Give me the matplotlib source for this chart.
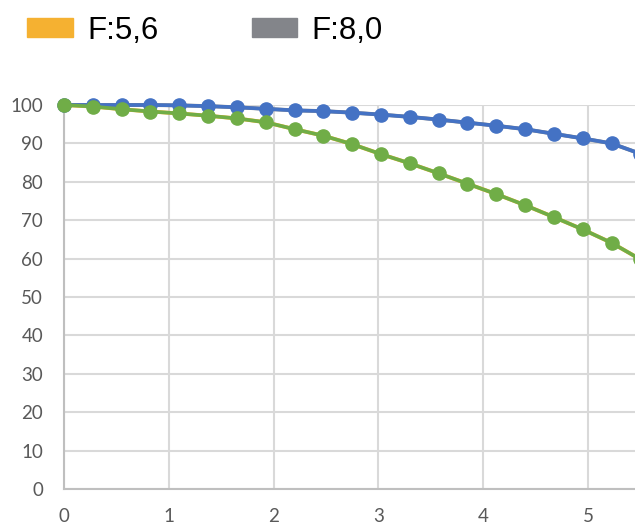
import matplotlib.pyplot as plt
from matplotlib.patches import Patch

# x positions of the samples
x_vals = [0.0, 0.275, 0.55, 0.825, 1.1, 1.375, 1.65, 1.925, 2.2, 2.475, 2.75,
          3.025, 3.3, 3.575, 3.85, 4.125, 4.4, 4.675, 4.95, 5.225, 5.5]
# F:5,6 (green line)
f56 = [100, 99.6, 98.9, 98.3, 97.8, 97.2, 96.5, 95.5, 93.7, 92.0, 89.8,
       87.2, 84.8, 82.2, 79.5, 76.8, 73.9, 70.8, 67.6, 64.1, 59.8]
# F:8,0 (blue line)
f80 = [100, 100, 100, 100, 99.9, 99.7, 99.4, 99.0, 98.6, 98.4, 98.0,
       97.5, 96.9, 96.2, 95.4, 94.6, 93.7, 92.5, 91.3, 90.0, 87.3]
legend_names = ['F:5,6', 'F:8,0']
legend_colors = ['#F5B131', '#83858A']
yticks = [0, 10, 20, 30, 40, 50, 60, 70, 80, 90, 100]
xticks = [0, 1, 2, 3, 4, 5]

fig = plt.figure(figsize=(6.35, 5.25), dpi=100)
ax = fig.add_axes([64/635, 36/525, 1 - 64/635, (489-105)/525])

# hidden series drawn underneath, then the visible ones on top
ax.plot(x_vals, f56, color=legend_colors[0], lw=2.8, zorder=3, clip_on=False)
ax.plot(x_vals, f80, color=legend_colors[1], lw=2.8, zorder=3, clip_on=False)
ax.plot(x_vals, f80, color='#4472C4', lw=2.6, marker='o', ms=9.5, zorder=4,
        clip_on=False)
ax.plot(x_vals, f56, color='#70AD47', lw=2.6, marker='o', ms=9.5, zorder=5,
        clip_on=False)

ax.set_xlim(0, (635-64)/104.8)
ax.set_ylim(0, 100)
ax.set_xticks(xticks)
ax.set_yticks(yticks)
ax.grid(True, color='#D9D9D9', lw=1.5, zorder=0)
ax.set_axisbelow(True)
for s in ['top', 'right']:
    ax.spines[s].set_visible(False)
for s in ['left', 'bottom']:
    ax.spines[s].set_color('#BFBFBF')
    ax.spines[s].set_linewidth(1.5)
ax.tick_params(length=0, labelsize=13.5, labelcolor='#595959')
ax.tick_params(axis='x', pad=14)
ax.tick_params(axis='y', pad=15)
for lab in ax.get_xticklabels() + ax.get_yticklabels():
    lab.set_family('Lato')

handles = [Patch(color=c) for c in legend_colors]
fig.legend(handles, legend_names, loc='upper left', bbox_to_anchor=(-0.001, 1.024),
           ncol=2, frameon=False, handlelength=1.45, handleheight=0.6,
           columnspacing=3.0, handletextpad=0.46,
           prop={'family': 'Liberation Sans', 'size': 22.5})

fig.savefig('out.png', dpi=100)
